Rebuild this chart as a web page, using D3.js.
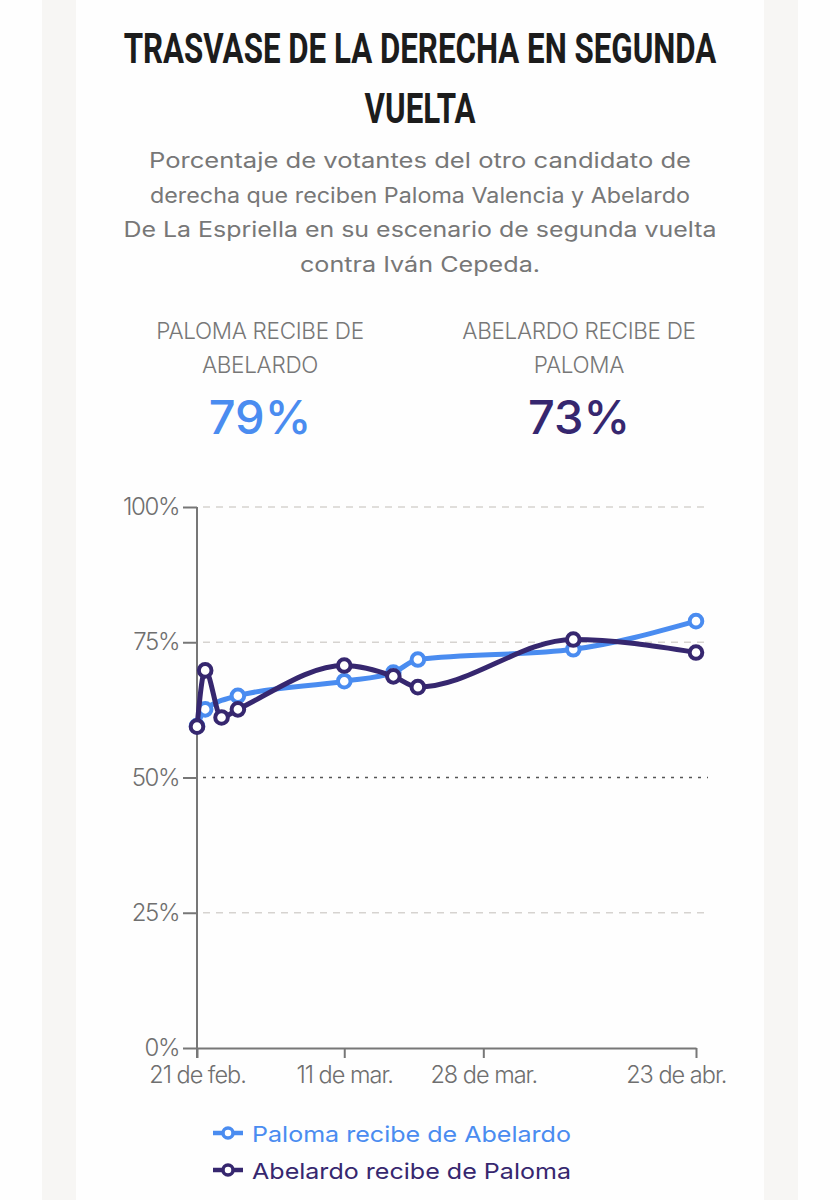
<!DOCTYPE html>
<html>
<head>
<meta charset="utf-8">
<script src="https://cdn.jsdelivr.net/npm/d3@7"></script>
<style>
  body { margin: 0; background: #ffffff; }
  svg { display: block; }
</style>
</head>
<body>
<svg id="chart"></svg>
<script>
// data
var palomaDates = ['2026-02-21', '2026-02-22', '2026-02-26', '2026-03-11', '2026-03-17', '2026-03-20', '2026-04-08', '2026-04-23'];
var palomaValues = [59.5, 62.6, 65.1, 67.8, 69.4, 71.8, 73.7, 78.9];

var abelardoDates = ['2026-02-21', '2026-02-22', '2026-02-24', '2026-02-26', '2026-03-11', '2026-03-17', '2026-03-20', '2026-04-08', '2026-04-23'];
var abelardoValues = [59.4, 69.8, 61.1, 62.6, 70.7, 68.7, 66.7, 75.5, 73.1];

var yTicks = [0, 25, 50, 75, 100];
var xTickDates = ['2026-02-21', '2026-03-11', '2026-03-28', '2026-04-23'];
var xTickLabels = ['21 de feb.', '11 de mar.', '28 de mar.', '23 de abr.'];

var seriesNames = ['Paloma recibe de Abelardo', 'Abelardo recibe de Paloma'];
var seriesColors = ['#4a8cf0', '#36276f'];
var headerLabels = [['PALOMA RECIBE DE', 'ABELARDO'], ['ABELARDO RECIBE DE', 'PALOMA']];
var headerValues = ['79%', '73%'];

var titleLines = ['TRASVASE DE LA DERECHA EN SEGUNDA', 'VUELTA'];
var subtitleLines = [
  'Porcentaje de votantes del otro candidato de',
  'derecha que reciben Paloma Valencia y Abelardo',
  'De La Espriella en su escenario de segunda vuelta',
  'contra Iván Cepeda.'
];

var width = 840, height = 1200;
var parseDate = d3.timeParse('%Y-%m-%d');
var sans = 'Inter, "Open Sans", sans-serif';

var svg = d3.select('#chart')
    .attr('width', width)
    .attr('height', height);

// page strips at both sides
svg.append('rect').attr('x', 0).attr('y', 0).attr('width', width).attr('height', height).attr('fill', '#fefefe');
svg.append('rect').attr('x', 42).attr('y', 0).attr('width', 34).attr('height', height).attr('fill', '#f7f6f4');
svg.append('rect').attr('x', 764).attr('y', 0).attr('width', 34).attr('height', height).attr('fill', '#f7f6f4');

// title: condensed by squeezing a normal bold face horizontally
var titleG = svg.append('g');
var titleTexts = titleG.selectAll('.title')
    .data(titleLines)
    .join('text')
    .attr('class', 'title')
    .attr('x', 0).attr('y', 0)
    .attr('text-anchor', 'middle')
    .attr('font-family', 'Roboto, sans-serif')
    .attr('font-weight', 700)
    .attr('font-size', 42)
    .attr('fill', '#1c1c1c')
    .text(d => d);
var titleNatural = titleTexts.nodes()[0].getComputedTextLength();
var titleK = 593 / titleNatural;
titleTexts.attr('transform', (d, i) => `translate(420,${63 + i * 60}) scale(${titleK},1)`);

// subtitle
var subWidths = [542, 540, 593, 240];
svg.selectAll('.subtitle')
    .data(subtitleLines)
    .join('text')
    .attr('class', 'subtitle')
    .attr('x', 420)
    .attr('y', (d, i) => 168 + i * 34.5)
    .attr('text-anchor', 'middle')
    .attr('font-family', sans)
    .attr('font-size', 21)
    .attr('fill', '#777')
    .attr('textLength', (d, i) => subWidths[i])
    .attr('lengthAdjust', 'spacingAndGlyphs')
    .text(d => d);

// big numbers
var headerX = [260, 579];
headerLabels.forEach(function(lines, i) {
  lines.forEach(function(l, j) {
    svg.append('text')
        .attr('x', headerX[i]).attr('y', 339 + j * 34)
        .attr('text-anchor', 'middle')
        .attr('font-family', sans)
        .attr('font-weight', 300)
        .attr('font-size', 22.5)
        .attr('fill', '#777')
        .attr('letter-spacing', -0.3)
        .text(l);
  });
  svg.append('text')
      .attr('x', headerX[i]).attr('y', 434)
      .attr('text-anchor', 'middle')
      .attr('font-family', sans)
      .attr('font-weight', 500)
      .attr('font-size', 47)
      .attr('fill', seriesColors[i])
      .text(headerValues[i]);
});

// chart area
var margin = {top: 507, left: 197};
var plotW = 696 - 197, plotH = 1048 - 507;

var chart = svg.append('g')
    .attr('transform', `translate(${margin.left},${margin.top})`);

var xScale = d3.scaleTime()
    .domain([parseDate(xTickDates[0]), parseDate(xTickDates[xTickDates.length - 1])])
    .range([0, plotW]);

var yScale = d3.scaleLinear()
    .domain([0, 100])
    .range([plotH, 0]);

// gridlines
chart.selectAll('.grid')
    .data(yTicks.filter(d => d > 0))
    .join('line')
    .attr('class', 'grid')
    .attr('x1', 6).attr('x2', plotW + 12)
    .attr('y1', d => yScale(d)).attr('y2', d => yScale(d))
    .attr('stroke', d => d === 50 ? '#555' : '#d6d3d0')
    .attr('stroke-width', 1.5)
    .attr('stroke-dasharray', d => d === 50 ? '3,6' : '7,6');

// y axis
var yAxis = d3.axisLeft(yScale)
    .tickValues(yTicks)
    .tickFormat(d => d + '%')
    .tickSize(14)
    .tickPadding(4)
    .tickSizeOuter(0);

var yAxisG = chart.append('g').call(yAxis);
yAxisG.select('.domain').attr('stroke', '#777').attr('stroke-width', 2).attr('d', `M0,0V${plotH + 10}`);
yAxisG.selectAll('.tick line').attr('stroke', '#777').attr('stroke-width', 2);
yAxisG.selectAll('.tick text')
    .attr('font-family', sans)
    .attr('font-weight', 300)
    .attr('font-size', 24)
    .attr('fill', '#6f6f6f')
    .attr('letter-spacing', -1.4);

// x axis
var xAxis = d3.axisBottom(xScale)
    .tickValues(xTickDates.map(parseDate))
    .tickFormat((d, i) => xTickLabels[i])
    .tickSize(10)
    .tickPadding(8)
    .tickSizeOuter(0);

var xAxisG = chart.append('g')
    .attr('transform', `translate(0,${plotH})`)
    .call(xAxis);
xAxisG.select('.domain').attr('stroke', '#777').attr('stroke-width', 2);
xAxisG.selectAll('.tick line').attr('stroke', '#777').attr('stroke-width', 2);
xAxisG.selectAll('.tick text')
    .attr('font-family', sans)
    .attr('font-weight', 300)
    .attr('font-size', 23.5)
    .attr('fill', '#6f6f6f')
    .attr('letter-spacing', -1)
    .attr('text-anchor', (d, i) => i === xTickLabels.length - 1 ? 'end' : 'middle')
    .attr('dx', (d, i) => i === xTickLabels.length - 1 ? 30 : 0);

// lines
var series = [
  {name: seriesNames[0], color: seriesColors[0], points: palomaDates.map((d, i) => ({date: parseDate(d), value: palomaValues[i]}))},
  {name: seriesNames[1], color: seriesColors[1], points: abelardoDates.map((d, i) => ({date: parseDate(d), value: abelardoValues[i]}))}
];

var line = d3.line()
    .x(d => xScale(d.date))
    .y(d => yScale(d.value))
    .curve(d3.curveMonotoneX);

series.forEach(function(s) {
  var g = chart.append('g');
  g.append('path')
      .datum(s.points)
      .attr('d', line)
      .attr('fill', 'none')
      .attr('stroke', s.color)
      .attr('stroke-width', 5)
      .attr('stroke-linejoin', 'round');
  g.selectAll('circle')
      .data(s.points)
      .join('circle')
      .attr('cx', d => xScale(d.date))
      .attr('cy', d => yScale(d.value))
      .attr('r', 6.3)
      .attr('fill', '#fff')
      .attr('stroke', s.color)
      .attr('stroke-width', 4);
});

// legend
var legend = svg.append('g').attr('transform', 'translate(213,1133)');
series.forEach(function(s, i) {
  var row = legend.append('g').attr('transform', `translate(0,${i * 37})`);
  row.append('line').attr('x1', 0).attr('x2', 30).attr('y1', 0).attr('y2', 0)
      .attr('stroke', s.color).attr('stroke-width', 4.5);
  row.append('circle').attr('cx', 15).attr('cy', 0).attr('r', 5)
      .attr('fill', '#fff').attr('stroke', s.color).attr('stroke-width', 3.5);
  row.append('text')
      .attr('x', 39).attr('y', 8.5)
      .attr('font-family', sans)
      .attr('font-size', 22)
      .attr('fill', s.color)
      .attr('textLength', 319)
      .attr('lengthAdjust', 'spacingAndGlyphs')
      .text(s.name);
});
</script>
</body>
</html>
